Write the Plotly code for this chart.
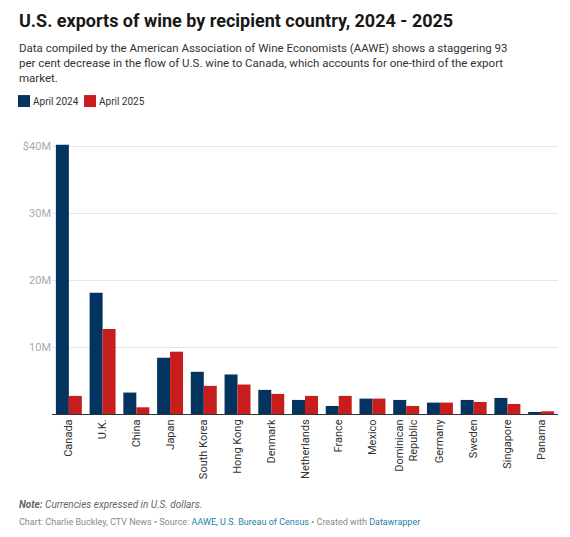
import plotly.graph_objects as go

countries = ["Canada", "U.K.", "China", "Japan", "South Korea", "Hong Kong", "Denmark",
             "Netherlands", "France", "Mexico", "Dominican<br>Republic", "Germany",
             "Sweden", "Singapore", "Panama"]
# values in millions of U.S. dollars
april_2024 = [40.2, 18.1, 3.2, 8.4, 6.3, 5.9, 3.6, 2.1, 1.2, 2.3, 2.1, 1.7, 2.1, 2.4, 0.2]
april_2025 = [2.7, 12.7, 1.0, 9.3, 4.2, 4.4, 3.0, 2.7, 2.7, 2.3, 1.2, 1.7, 1.8, 1.5, 0.4]
y_ticks = [10, 20, 30, 40]
y_tick_labels = ["10M", "20M", "30M", "$40M"]

NAVY = "#02345f"
RED = "#c71e1d"

# the page body has an 8px margin, so the figure sits at (8, 8) in the window
OFF = 8
W_PX, H_PX = 570 - 2 * OFF, 537 - 2 * OFF
# plot area edges in window pixels
LEFT, RIGHT, TOP, BOTTOM = 52, 558, 144, 414.3
L, T = LEFT - OFF, TOP - OFF
R = W_PX - (RIGHT - OFF)
B = H_PX - (BOTTOM - OFF)
PW = RIGHT - LEFT
PH = BOTTOM - TOP


def fx(px):
    return (px - LEFT) / PW


def fy(py):
    return (BOTTOM - py) / PH


fig = go.Figure()
fig.add_trace(go.Bar(x=countries, y=april_2024, name="April 2024", marker_color=NAVY,
                     marker_line_width=0))
fig.add_trace(go.Bar(x=countries, y=april_2025, name="April 2025", marker_color=RED,
                     marker_line_width=0))

fig.update_layout(
    width=W_PX, height=H_PX,
    margin=dict(l=L, r=R, t=T, b=B),
    paper_bgcolor="white", plot_bgcolor="white",
    font=dict(family="Roboto", size=11, color="#333333"),
    barmode="group", bargap=0.23, bargroupgap=0,
    showlegend=False,
)
fig.update_xaxes(
    tickangle=-90, showgrid=False, showline=True, linecolor="#333333", linewidth=1,
    ticks="", tickfont=dict(size=11, color="#333333"),
)
fig.update_yaxes(
    range=[0, 40.3], tickvals=y_ticks, ticktext=y_tick_labels,
    showgrid=True, gridcolor="#e6e6e6", gridwidth=1, zeroline=False,
    ticks="", tickfont=dict(size=11, color="#aaaaaa"),
)

annotations = [
    dict(text="Data compiled by the American Association of Wine Economists (AAWE) shows a staggering 93<br>"
              "per cent decrease in the flow of U.S. wine to Canada, which accounts for one-third of the export<br>"
              "market.",
         x=fx(17), y=fy(63), font=dict(size=11.5, color="#333333")),
    dict(text="April 2024", x=fx(31), y=fy(101), font=dict(size=10, color="#333333")),
    dict(text="April 2025", x=fx(97), y=fy(101), font=dict(size=10, color="#333333")),
    dict(text="<b><i>Note:</i></b><i> Currencies expressed in U.S. dollars.</i>",
         x=fx(17), y=fy(505), font=dict(size=10, color="#666666")),
    dict(text="Chart: Charlie Buckley, CTV News • Source: <span style='color:#1d81a2'>AAWE, U.S. Bureau of Census</span>"
              " • Created with <span style='color:#1d81a2'>Datawrapper</span>",
         x=fx(17), y=fy(522), font=dict(size=9, color="#888888")),
]
for a in annotations:
    fig.add_annotation(xref="paper", yref="paper", xanchor="left", yanchor="middle",
                       showarrow=False, align="left", **a)

# title, anchored at the top edge of the figure so it is not clipped
fig.add_annotation(xref="paper", yref="paper", xanchor="left", yanchor="top",
                   x=fx(17), y=fy(OFF), showarrow=False, align="left",
                   text="<b>U.S. exports of wine by recipient country, 2024 - 2025</b>",
                   font=dict(size=18, color="#181818"))

# legend swatches
for x0, color in [(18, NAVY), (84, RED)]:
    fig.add_shape(type="rect", xref="paper", yref="paper",
                  x0=fx(x0), x1=fx(x0 + 12), y0=fy(95), y1=fy(107),
                  fillcolor=color, line_width=0)

fig.write_html("out.html")
